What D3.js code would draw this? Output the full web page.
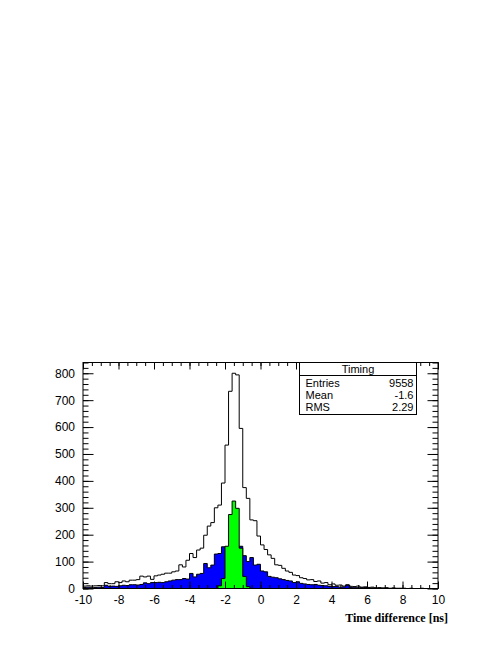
<!DOCTYPE html>
<html>
<head>
<meta charset="utf-8">
<script src="https://cdn.jsdelivr.net/npm/d3@7"></script>
<style>
  html, body { margin: 0; padding: 0; background: #ffffff; }
  svg { display: block; }
  text { font-family: "Liberation Sans", Arial, sans-serif; }
</style>
</head>
<body>
<div id="chart"></div>
<script>
// ---------- data ----------
const xMin = -10, xMax = 10, binWidth = 0.2;
const xTickValues = [-10, -8, -6, -4, -2, 0, 2, 4, 6, 8, 10];
const yTickValues = [0, 100, 200, 300, 400, 500, 600, 700, 800];
const xAxisTitle = "Time difference [ns]";
const statsTitle = "Timing";
const statsLabels = ["Entries", "Mean", "RMS"];
const statsValues = ["9558", "-1.6", "2.29"];

// all events (hollow histogram), 100 bins from -10 to 10
const totalCounts = [
  9, 10, 9, 10, 11, 10, 22, 18, 18, 25,
  22, 28, 25, 31, 31, 33, 46, 43, 46, 34,
  47, 50, 53, 57, 57, 62, 65, 88, 80, 105,
  130, 115, 143, 150, 198, 232, 245, 300, 310, 392,
  533, 733, 800, 794, 595, 375, 335, 255, 252, 195,
  162, 145, 125, 112, 88, 86, 75, 65, 60, 50,
  48, 40, 37, 32, 33, 26, 28, 20, 22, 14,
  17, 12, 13, 9, 14, 8, 7, 9, 5, 6,
  4, 5, 3, 3, 2, 3, 1, 2, 1, 1,
  1, 0, 1, 0, 0, 1, 0, 0, 0, 0
];
// blue filled histogram
const blueCounts = [
  4, 5, 3, 4, 5, 4, 12, 8, 9, 8,
  10, 12, 11, 14, 14, 13, 15, 21, 18, 22,
  22, 23, 22, 25, 28, 31, 33, 33, 37, 35,
  56, 43, 53, 56, 93, 77, 87, 128, 130, 155,
  150, 150, 150, 150, 157, 122, 100, 115, 87, 90,
  65, 62, 45, 42, 40, 36, 33, 30, 28, 22,
  25, 19, 17, 15, 14, 15, 12, 11, 10, 8,
  7, 7, 5, 6, 12, 4, 5, 3, 3, 4,
  2, 2, 1, 2, 1, 1, 0, 1, 0, 0,
  0, 0, 0, 0, 0, 0, 0, 0, 0, 0
];
// green filled histogram
const greenCounts = [
  0, 0, 0, 0, 0, 0, 0, 0, 0, 0,
  0, 0, 0, 0, 0, 0, 0, 0, 0, 0,
  0, 0, 0, 0, 0, 0, 0, 0, 0, 0,
  0, 0, 0, 0, 0, 0, 0, 0, 10, 37,
  157, 275, 325, 298, 150, 45, 7, 0, 0, 0,
  0, 0, 0, 0, 0, 0, 0, 0, 0, 0,
  0, 0, 0, 0, 0, 0, 0, 0, 0, 0,
  0, 0, 0, 0, 0, 0, 0, 0, 0, 0,
  0, 0, 0, 0, 0, 0, 0, 0, 0, 0,
  0, 0, 0, 0, 0, 0, 0, 0, 0, 0
];

// ---------- layout ----------
const W = 498, H = 645;
const frame = { left: 83, right: 438, top: 362.5, bottom: 588.5 };
const yMax = 840;

const svg = d3.select("#chart").append("svg")
  .attr("width", W).attr("height", H);

const x = d3.scaleLinear().domain([xMin, xMax]).range([frame.left, frame.right]);
const y = d3.scaleLinear().domain([0, yMax]).range([frame.bottom, frame.top]);

svg.append("rect").attr("x", 0).attr("y", 0).attr("width", W).attr("height", H).attr("fill", "#fff");

svg.append("defs").append("clipPath").attr("id", "fclip")
  .append("rect").attr("x", frame.left).attr("y", frame.top)
  .attr("width", frame.right - frame.left).attr("height", frame.bottom - frame.top);

function stepPoints(counts) {
  const pts = [];
  counts.forEach((c, i) => {
    const lo = xMin + i * binWidth, hi = lo + binWidth;
    pts.push([lo, c]); pts.push([hi, c]);
  });
  return pts;
}
function bandSegments(counts) {
  const segs = []; let cur = null;
  counts.forEach((c, i) => {
    if (c > 0) {
      if (!cur) { cur = []; segs.push(cur); }
      const lo = xMin + i * binWidth, hi = lo + binWidth;
      cur.push([lo, c]); cur.push([hi, c]);
    } else cur = null;
  });
  return segs;
}

const g = svg.append("g").attr("clip-path", "url(#fclip)");
const line = d3.line().x(d => x(d[0])).y(d => y(d[1]));
const area = d3.area().x(d => x(d[0])).y0(y(0)).y1(d => y(d[1]));

// hollow total
g.append("path").attr("d", line(stepPoints(totalCounts)))
  .attr("fill", "none").attr("stroke", "#000").attr("stroke-width", 1);

function filled(counts, color) {
  bandSegments(counts).forEach(seg => {
    g.append("path").attr("d", area(seg)).attr("fill", color).attr("stroke", "none");
    g.append("path").attr("d", line([[seg[0][0], 0], ...seg, [seg[seg.length - 1][0], 0]]))
      .attr("fill", "none").attr("stroke", "#000").attr("stroke-width", 1);
  });
}
filled(blueCounts, "#0000ff");
filled(greenCounts, "#00ff00");

// ---------- axes ----------
const xMinorTicks = d3.range(xMin, xMax + 0.001, 0.5);
const yMinorTicks = d3.range(0, yMax + 0.001, 20);
const xMajorLen = 7, xMinorLen = 3.5, yMajorLen = 10.5, yMinorLen = 5.5;
const plainFmt = d => String(d);

function tickStyle(sel) {
  sel.select(".domain").remove();
  sel.selectAll("line").attr("stroke", "#000").attr("stroke-width", 1);
  sel.selectAll("text").attr("fill", "#000").style("font-size", "12px")
    .style("font-family", "'Liberation Sans', Arial, sans-serif");
}

// bottom axis
svg.append("g").attr("transform", `translate(0,${frame.bottom})`)
  .call(d3.axisBottom(x).tickValues(xMinorTicks).tickSize(-xMinorLen).tickFormat(""))
  .call(tickStyle);
svg.append("g").attr("transform", `translate(0,${frame.bottom})`)
  .call(d3.axisBottom(x).tickValues(xTickValues).tickSize(-xMajorLen).tickPadding(7)
    .tickFormat(plainFmt))
  .call(tickStyle);
// top axis
svg.append("g").attr("transform", `translate(0,${frame.top})`)
  .call(d3.axisTop(x).tickValues(xMinorTicks).tickSize(-xMinorLen).tickFormat(""))
  .call(tickStyle);
svg.append("g").attr("transform", `translate(0,${frame.top})`)
  .call(d3.axisTop(x).tickValues(xTickValues).tickSize(-xMajorLen).tickFormat(""))
  .call(tickStyle);
// left axis
svg.append("g").attr("transform", `translate(${frame.left},0)`)
  .call(d3.axisLeft(y).tickValues(yMinorTicks).tickSize(-yMinorLen).tickFormat(""))
  .call(tickStyle);
svg.append("g").attr("transform", `translate(${frame.left},0)`)
  .call(d3.axisLeft(y).tickValues(yTickValues).tickSize(-yMajorLen).tickPadding(8)
    .tickFormat(plainFmt))
  .call(tickStyle);
// right axis
svg.append("g").attr("transform", `translate(${frame.right},0)`)
  .call(d3.axisRight(y).tickValues(yMinorTicks).tickSize(-yMinorLen).tickFormat(""))
  .call(tickStyle);
svg.append("g").attr("transform", `translate(${frame.right},0)`)
  .call(d3.axisRight(y).tickValues(yTickValues).tickSize(-yMajorLen).tickFormat(""))
  .call(tickStyle);

// frame
svg.append("rect").attr("x", frame.left).attr("y", frame.top)
  .attr("width", frame.right - frame.left).attr("height", frame.bottom - frame.top)
  .attr("fill", "none").attr("stroke", "#000").attr("stroke-width", 1);

// axis title
svg.append("text").attr("x", 448).attr("y", 622).attr("text-anchor", "end")
  .style("font-family", "'Liberation Serif', 'Times New Roman', serif")
  .style("font-weight", "bold").style("font-size", "12px")
  .text(xAxisTitle);

// ---------- stats box ----------
const box = { x: 299.5, y: 362.5, w: 117, h: 52 };
const sb = svg.append("g");
sb.append("rect").attr("x", box.x).attr("y", box.y).attr("width", box.w).attr("height", box.h)
  .attr("fill", "#fff").attr("stroke", "#000").attr("stroke-width", 1);
sb.append("line").attr("x1", box.x).attr("x2", box.x + box.w)
  .attr("y1", box.y + 13).attr("y2", box.y + 13).attr("stroke", "#000");
sb.append("text").attr("x", box.x + box.w / 2).attr("y", box.y + 10.5)
  .attr("text-anchor", "middle").style("font-size", "11px").text(statsTitle);
statsLabels.forEach((lab, i) => {
  const by = box.y + 24.5 + i * 12;
  sb.append("text").attr("x", box.x + 6).attr("y", by).style("font-size", "11px").text(lab);
  sb.append("text").attr("x", box.x + box.w - 3).attr("y", by).attr("text-anchor", "end")
    .style("font-size", "11px").text(statsValues[i]);
});
</script>
</body>
</html>
